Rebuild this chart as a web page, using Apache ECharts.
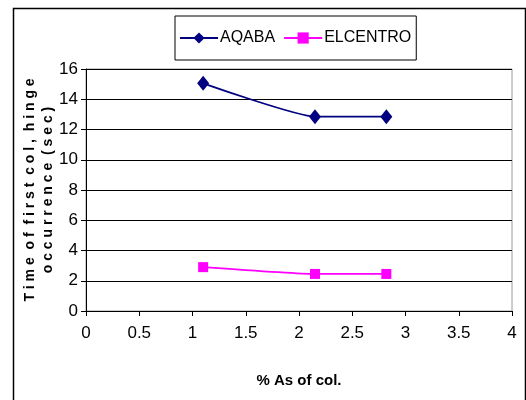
<!DOCTYPE html>
<html>
<head>
<meta charset="utf-8">
<script src="https://cdn.jsdelivr.net/npm/echarts@6/dist/echarts.min.js"></script>
<style>html,body{margin:0;padding:0;background:#fff;}#c{width:526px;height:400px;}</style>
</head>
<body>
<div id="c"></div>
<script>
const xTitle = '% As of col.';
const yTitle = 'T i m e  o f  f i r s t  c o l ,  h i n g e\no c c u r r e n c e  ( s e c )';
const aqabaX = [1.1, 2.15, 2.82];
const aqabaY = [15.05, 12.85, 12.85];
const elcentroX = [1.1, 2.15, 2.82];
const elcentroY = [2.9, 2.45, 2.45];
const seriesNames = ['AQABA', 'ELCENTRO'];

const FONT = "'Liberation Sans Narrow', 'Arial Narrow', 'Liberation Sans', Arial, sans-serif";
const chart = echarts.init(document.getElementById('c'));
chart.setOption({
  animation: false,
  backgroundColor: '#fff',
  graphic: [{
    type: 'rect', left: 11, top: 6, shape: { width: 512, height: 420 },
    style: { fill: 'none', stroke: '#000', lineWidth: 1.5 }, silent: true, z: -1
  }],
  grid: { left: 86, right: 14, top: 69, bottom: 89, show: true, borderColor: '#9a9a9a', borderWidth: 1 },
  legend: {
    orient: 'horizontal',
    left: 175, top: 16,
    padding: [14, 5, 14, 4],
    borderColor: '#000', borderWidth: 1, backgroundColor: '#fff',
    itemWidth: 38, itemHeight: 14, itemGap: 8,
    textStyle: { fontFamily: FONT, fontSize: 16, color: '#000', padding: [0, 0, 0, -3] },
    data: seriesNames
  },
  xAxis: {
    type: 'value', min: 0, max: 4, interval: 0.5,
    name: xTitle, nameLocation: 'middle', nameGap: 62, nameMoveOverlap: false,
    nameTextStyle: { fontFamily: FONT, fontSize: 15, fontWeight: 'bold', color: '#000' },
    axisLine: { lineStyle: { color: '#000', width: 1 } },
    axisTick: { show: true, length: 5, lineStyle: { color: '#000' } },
    axisLabel: { fontFamily: FONT, fontSize: 17, color: '#000', margin: 14 },
    splitLine: { show: false }
  },
  yAxis: {
    type: 'value', min: 0, max: 16, interval: 2,
    name: yTitle, nameLocation: 'middle', nameGap: 29, nameRotate: 90, nameMoveOverlap: false,
    nameTextStyle: { fontFamily: FONT, fontSize: 14, fontWeight: 'bold', color: '#000', lineHeight: 18 },
    axisLine: { show: true, lineStyle: { color: '#000', width: 1 } },
    axisTick: { show: true, length: 5, lineStyle: { color: '#000' } },
    axisLabel: { fontFamily: FONT, fontSize: 17, color: '#000', margin: 8 },
    splitLine: { show: true, lineStyle: { color: '#000', width: 1 } }
  },
  series: [
    {
      name: seriesNames[0], type: 'line', smooth: 0.15,
      data: aqabaX.map((x, i) => [x, aqabaY[i]]),
      symbol: 'diamond', symbolSize: [12, 15],
      lineStyle: { color: '#000080', width: 1.8 },
      itemStyle: { color: '#000080' }
    },
    {
      name: seriesNames[1], type: 'line', smooth: 0.15,
      data: elcentroX.map((x, i) => [x, elcentroY[i]]),
      symbol: 'rect', symbolSize: 10,
      lineStyle: { color: '#ff00ff', width: 1.8 },
      itemStyle: { color: '#ff00ff' }
    }
  ]
});
</script>
</body>
</html>
